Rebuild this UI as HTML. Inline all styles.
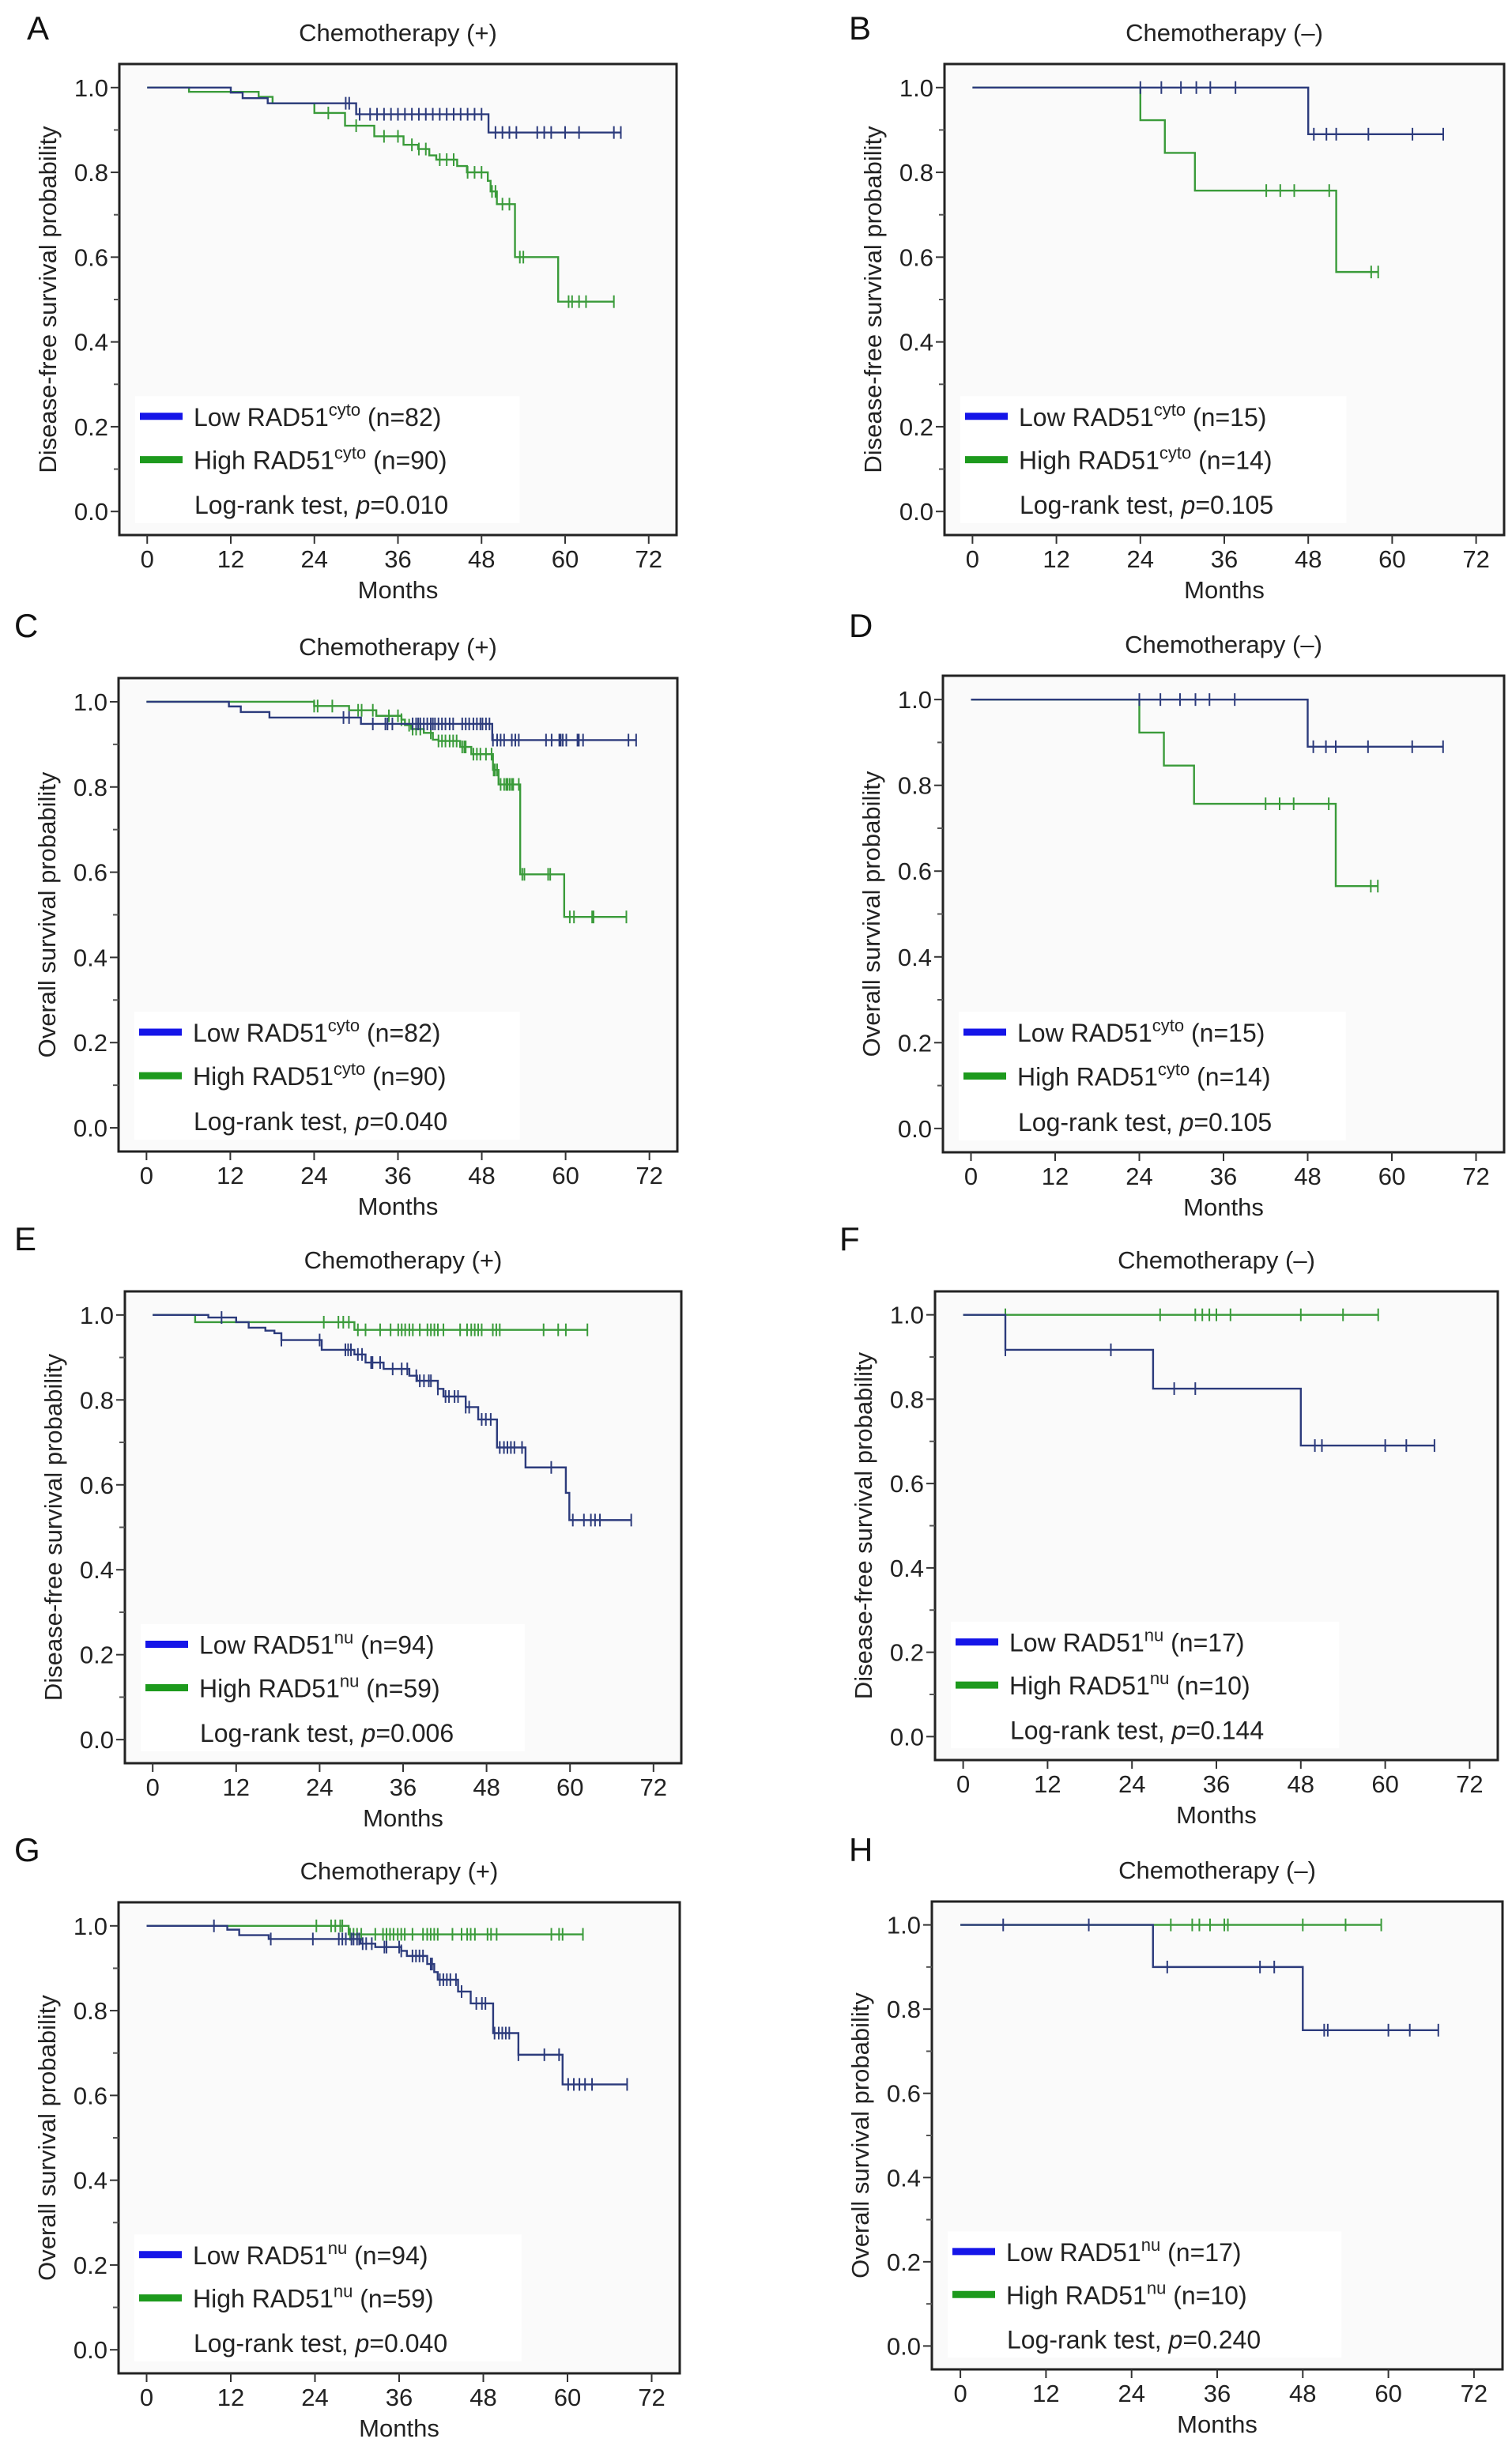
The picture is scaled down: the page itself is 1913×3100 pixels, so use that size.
<!DOCTYPE html>
<html><head><meta charset="utf-8"><style>
html,body{margin:0;padding:0;background:#fff;}
svg{display:block;font-family:"Liberation Sans",sans-serif;}
</style></head><body>
<svg id="fig" width="1913" height="3100" viewBox="0 0 1913 3100" xmlns="http://www.w3.org/2000/svg"></svg>
<script>
// ---- Data (months, survival probability) ----
const xTicks=[0,12,24,36,48,60,72];
const yTicks=[0,0.2,0.4,0.6,0.8,1.0];
const yMinor=[0.1,0.3,0.5,0.7,0.9];
// A
const aLowT=[12,13.7,17.3,30,49];
const aLowS=[0.988,0.975,0.963,0.937,0.894];
const aLowC=[28.5,29,30.5,32,33,34,35,36,37,38,39,40,41,42,43,44,45,46,47,48,50,51,52,53,56,57,58,60,62,67,68];
const aHighT=[6,16,18,24,28.4,32.6,36.8,38.9,40.5,41.5,44.5,45.9,48.9,49.3,50.2,52.8,59];
const aHighS=[0.99,0.978,0.963,0.94,0.91,0.885,0.865,0.855,0.84,0.83,0.815,0.8,0.78,0.755,0.725,0.6,0.495];
const aHighC=[26,30,34,36,38,39,40,42,43,44,46,47,48,49.5,50,51,52,53.5,54,60.5,61,62,63,67];
// B
const bLowT=[48];
const bLowS=[0.89];
const bLowC=[24,27,29.8,32,34,37.6,48.8,50.6,52,56.6,62.9,67.3];
const bHighT=[24,27.5,31.8,52];
const bHighS=[0.923,0.846,0.757,0.565];
const bHighC=[42,44,46,51,57,58];
// C
const cLowT=[11.8,13.5,17.6,30.7,49.5];
const cLowS=[0.989,0.976,0.963,0.948,0.91];
const cLowC=[28.2,29,32.4,34.2,34.5,35.2,38.1,38.6,38.9,39.2,39.7,40.2,40.7,41,41.3,41.8,42.3,42.8,43.4,43.9,45.2,45.7,46.2,46.8,47.3,47.8,48.1,48.6,49.1,49.6,50.2,50.7,51.2,52.3,52.8,53.3,57.2,58,59.1,59.3,59.6,60.1,61.7,61.9,62.5,69,70.1];
const cHighT=[24,29,32.9,36.5,37,37.9,39.7,41,41.8,44.9,46.5,49.6,50.4,53.5,59.8];
const cHighS=[0.99,0.98,0.967,0.958,0.945,0.936,0.927,0.911,0.908,0.894,0.877,0.84,0.806,0.595,0.495];
const cHighC=[24,24.5,26.6,30.3,30.8,32.4,34.7,36,36.5,37.6,38.1,38.6,39.2,40.7,41.8,42.3,42.8,43.4,43.9,44.4,45.2,45.5,45.7,46.8,47.3,47.8,48.6,49.4,49.7,49.9,50.2,50.7,51.2,51.5,51.7,52,52.3,52.5,53.3,53.8,54.1,57.5,57.8,60.6,61.2,63.8,64,68.7];
// D
const dLowT=[48];
const dLowS=[0.89];
const dLowC=[24,27,29.8,32,34,37.6,48.8,50.6,52,56.6,62.9,67.3];
const dHighT=[24,27.5,31.8,52];
const dHighS=[0.923,0.846,0.757,0.565];
const dHighC=[42,44,46,51,57,58];
// E
const eLowT=[8,12,13.8,16.2,17.5,18.5,24.3,29,30.6,33.2,36.9,38,41,41.8,45,46.8,49.5,53.6,59.4,59.9];
const eLowS=[0.994,0.983,0.97,0.963,0.957,0.941,0.918,0.907,0.888,0.873,0.857,0.845,0.826,0.808,0.783,0.754,0.688,0.641,0.581,0.517];
const eLowC=[9.9,18.5,24,27.7,28.1,28.5,29.5,30.1,31.4,31.6,32.7,34.5,35.8,36.6,37.9,38.4,39,39.7,40,41,42.1,42.6,43.4,43.9,45,45.5,47.3,47.9,48.6,49.9,50.5,51,51.5,52,53.1,57.3,60.4,62,63,63.6,64.3,68.8];
const eHighT=[6.1,29];
const eHighS=[0.983,0.965];
const eHighC=[24.6,26.7,27.4,28.2,29.5,30.6,32.7,34.2,35.3,35.8,36.3,36.9,37.4,38.4,39.5,40,40.5,41,41.8,44.2,45.2,45.8,46.3,46.8,47.3,48.9,49.4,49.9,56.2,58.3,59.4,62.5];
// F
const fLowT=[6,27,48];
const fLowS=[0.917,0.825,0.69];
const fLowC=[6,21,30,33,50,51,60,63,67];
const fHighT=[];
const fHighS=[];
const fHighC=[6,28,33,34,35,36,38,48,54,59];
// G
const gLowT=[11.5,13.2,17.4,30.5,32.6,36.3,37.1,40,41,41.5,44.4,46.2,49.4,53,59.3];
const gLowS=[0.991,0.978,0.969,0.958,0.95,0.941,0.929,0.91,0.891,0.873,0.845,0.817,0.747,0.696,0.626];
const gLowC=[9.6,17.7,23.7,27.4,27.9,28.4,29.2,29.5,30,30.3,30.8,31.3,32.1,33.9,34.2,36,36.3,37.9,38.4,38.9,39.4,40.5,40.7,41.8,42.3,42.8,43.3,44.1,44.9,47,47.8,48.3,49.6,50.2,50.7,51.2,51.7,53,56.7,58.8,60.1,60.9,61.7,62.5,63.5,68.5];
const gHighT=[28.8];
const gHighS=[0.98];
const gHighC=[24.2,26.3,26.9,27.6,27.9,29,29.5,30,30.6,32.6,33.7,34.2,34.7,35.2,35.8,36.3,36.8,37.9,39.4,40,40.5,41,41.5,43.6,44.9,45.7,46.2,46.8,48.6,49.1,49.9,57.7,58.8,59.3,62.2];
// H
const hLowT=[27,48];
const hLowS=[0.9,0.75];
const hLowC=[6,18,29,42,44,51,51.5,60,63,67];
const hHighT=[];
const hHighS=[];
const hHighC=[29.5,32.5,33.5,35,37,37.5,48,54,59];

// ---- Layout ----
const panels=[
 {id:'a',letter:'A',lx:34,ly:50,box:[151,81,856,677],title:'Chemotherapy (+)',ytitle:'Disease-free survival probability',mk:'cyto',nl:82,nh:90,p:'0.010',low:[aLowT,aLowS,aLowC],high:[aHighT,aHighS,aHighC]},
 {id:'b',letter:'B',lx:1074,ly:50,box:[1195,81,1903,677],title:'Chemotherapy (\u2013)',ytitle:'Disease-free survival probability',mk:'cyto',nl:15,nh:14,p:'0.105',low:[bLowT,bLowS,bLowC],high:[bHighT,bHighS,bHighC]},
 {id:'c',letter:'C',lx:18,ly:806,box:[150,858,857,1457],title:'Chemotherapy (+)',ytitle:'Overall survival probability',mk:'cyto',nl:82,nh:90,p:'0.040',low:[cLowT,cLowS,cLowC],high:[cHighT,cHighS,cHighC]},
 {id:'d',letter:'D',lx:1074,ly:806,box:[1193,855,1903,1458],title:'Chemotherapy (\u2013)',ytitle:'Overall survival probability',mk:'cyto',nl:15,nh:14,p:'0.105',low:[dLowT,dLowS,dLowC],high:[dHighT,dHighS,dHighC]},
 {id:'e',letter:'E',lx:18,ly:1582,box:[158,1634,862,2231],title:'Chemotherapy (+)',ytitle:'Disease-free survival probability',mk:'nu',nl:94,nh:59,p:'0.006',low:[eLowT,eLowS,eLowC],high:[eHighT,eHighS,eHighC]},
 {id:'f',letter:'F',lx:1062,ly:1582,box:[1183,1634,1895,2227],title:'Chemotherapy (\u2013)',ytitle:'Disease-free survival probability',mk:'nu',nl:17,nh:10,p:'0.144',low:[fLowT,fLowS,fLowC],high:[fHighT,fHighS,fHighC]},
 {id:'g',letter:'G',lx:18,ly:2355,box:[150,2407,860,3003],title:'Chemotherapy (+)',ytitle:'Overall survival probability',mk:'nu',nl:94,nh:59,p:'0.040',low:[gLowT,gLowS,gLowC],high:[gHighT,gHighS,gHighC]},
 {id:'h',letter:'H',lx:1074,ly:2355,box:[1179,2406,1901,2998],title:'Chemotherapy (\u2013)',ytitle:'Overall survival probability',mk:'nu',nl:17,nh:10,p:'0.240',low:[hLowT,hLowS,hLowC],high:[hHighT,hHighS,hHighC]}
];
const NS='http://www.w3.org/2000/svg';
const svg=document.getElementById('fig');
function mk(tag,attrs,parent,text){const e=document.createElementNS(NS,tag);for(const k in attrs)e.setAttribute(k,attrs[k]);if(text!==undefined)e.textContent=text;(parent||svg).appendChild(e);return e;}
function survAt(T,S,t){let s=1;for(let i=0;i<T.length;i++){if(T[i]<=t)s=S[i];}return s;}

panels.forEach(p=>{
 const [L,Tp,R,B]=p.box;const W=R-L,H=B-Tp;
 const xs=m=>L+0.05*W+m/72*0.9*W;
 const ys=s=>Tp+0.95*H-s*0.9*H;
 const g=mk('g',{});
 
 
 const let_=mk('text',{x:p.lx,y:p.ly,'font-size':42,fill:'#111'},g,p.letter);
 
 
 const ti=mk('text',{x:(L+R)/2,y:Tp-29,'font-size':31,'text-anchor':'middle',fill:'#222'},g,p.title);
 
 
 const bg=mk('rect',{x:L,y:Tp,width:W,height:H,fill:'#fafafa',stroke:'#222','stroke-width':3},g);
 
 
 // y ticks
 yTicks.forEach(v=>{
  const y=ys(v);
  mk('line',{x1:L-11,x2:L,y1:y,y2:y,stroke:'#333','stroke-width':2},g);
  const t=mk('text',{x:L-14,y:y+11,'font-size':31,'text-anchor':'end',fill:'#222'},g,v.toFixed(1));
  
  
 });
 yMinor.forEach(v=>{const y=ys(v);mk('line',{x1:L-7,x2:L,y1:y,y2:y,stroke:'#555','stroke-width':2},g);});
 xTicks.forEach(v=>{
  const x=xs(v);
  mk('line',{x1:x,x2:x,y1:B,y2:B+11,stroke:'#333','stroke-width':2},g);
  const t=mk('text',{x:x,y:B+41,'font-size':31,'text-anchor':'middle',fill:'#222'},g,String(v));
  
  
 });
 const xt=mk('text',{x:(L+R)/2,y:B+80,'font-size':31,'text-anchor':'middle',fill:'#222'},g,'Months');
 
 
 const yc=(Tp+B)/2;
 const yt=mk('text',{x:L-80,y:yc,'font-size':31,'text-anchor':'middle',fill:'#222',transform:'rotate(-90 '+(L-80)+' '+yc+')'},g,p.ytitle);
 
 
 // legend
 const lg=mk('g',{},g);
 
 
 mk('rect',{x:L+20,y:Tp+0.705*H,width:0.69*W,height:0.27*H,fill:'#fff'},lg);
 const entries=[['Low',p.nl,'#1515e8'],['High',p.nh,'#1d9a1d']];
 entries.forEach((e,i)=>{
  const y=Tp+0.748*H+i*0.092*H;
  const sw=mk('line',{x1:L+26,x2:L+80,y1:y,y2:y,stroke:e[2],'stroke-width':9},lg);
  
  
  const tx=mk('text',{x:L+94,y:y+12,'font-size':32,fill:'#222'},lg);
  
  
  mk('tspan',{},tx,e[0]+' RAD51');
  mk('tspan',{'font-size':22,dy:-13},tx,p.mk);
  mk('tspan',{dy:13},tx,' (n='+e[1]+')');
 });
 const lr=mk('text',{x:L+95,y:Tp+0.955*H,'font-size':32,fill:'#222'},lg);
 
 
 mk('tspan',{},lr,'Log-rank test, ');
 mk('tspan',{'font-style':'italic'},lr,'p');
 mk('tspan',{},lr,'='+p.p);
 // curves (high drawn first, low on top)
 [['high',p.high,'#3a9b3a'],['low',p.low,'#2c3b7c']].forEach(([nm,arr,col])=>{
  const [T,S,C]=arr;
  const end=Math.max(C.length?Math.max(...C):0,T.length?T[T.length-1]:0);
  let d='M'+xs(0)+' '+ys(1);let cur=1;
  for(let i=0;i<T.length;i++){d+=' H'+xs(T[i])+' V'+ys(S[i]);cur=S[i];}
  d+=' H'+xs(end);
  const path=mk('path',{d:d,fill:'none',stroke:col,'stroke-width':2.4},g);
  
  
  C.forEach(c=>{
   const x=xs(c),y=ys(survAt(T,S,c));
   const cm=mk('line',{x1:x,x2:x,y1:y-8,y2:y+8,stroke:col,'stroke-width':2},g);
   
   
  });
 });
});
</script>
</body></html>
